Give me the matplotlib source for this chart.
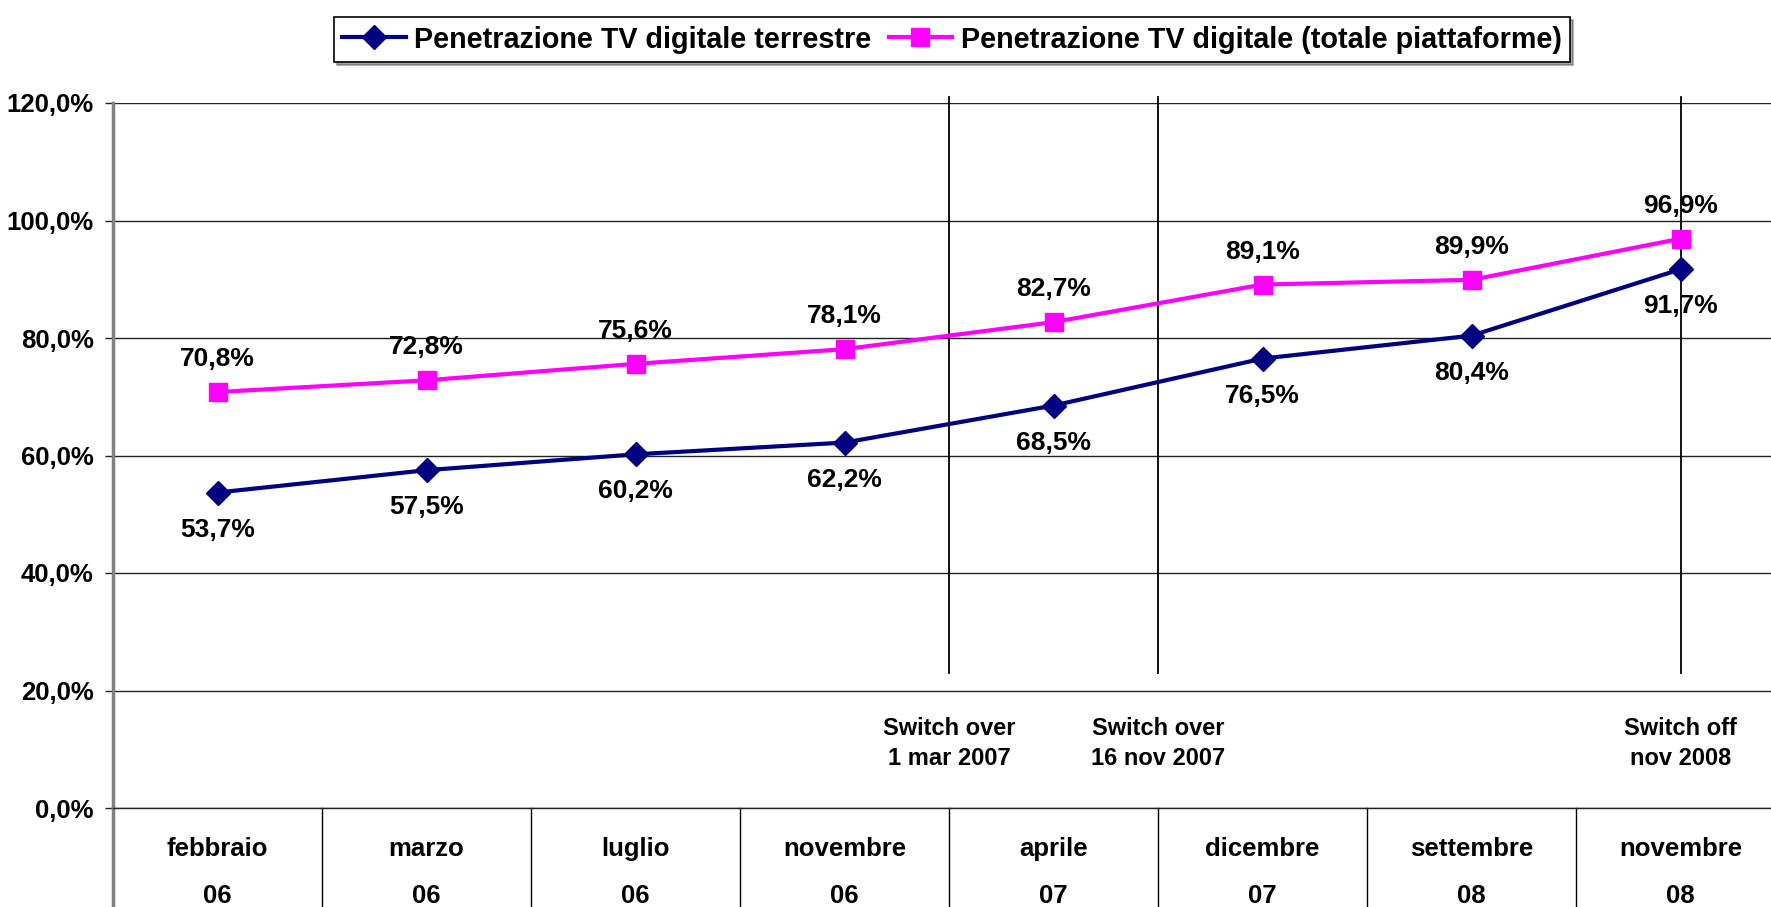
import matplotlib
matplotlib.use("Agg")
import matplotlib.pyplot as plt
import matplotlib.transforms as mtransforms

plt.rcParams['font.family'] = ['Liberation Sans', 'DejaVu Sans']
plt.rcParams['font.weight'] = 'bold'

# data
months = ["febbraio", "marzo", "luglio", "novembre", "aprile", "dicembre", "settembre", "novembre"]
years = ["06", "06", "06", "06", "07", "07", "08", "08"]
terrestre = [53.7, 57.5, 60.2, 62.2, 68.5, 76.5, 80.4, 91.7]
totale = [70.8, 72.8, 75.6, 78.1, 82.7, 89.1, 89.9, 96.9]
label_terr = "Penetrazione TV digitale terrestre"
label_tot = "Penetrazione TV digitale (totale piattaforme)"

# switch over / off markers (position between categories, text)
events_x = [3.5, 4.5, 7.0]
events_txt = ["Switch over\n1 mar 2007", "Switch over\n16 nov 2007", "Switch off\nnov 2008"]


def pct(v):
  return f"{v:.1f}%".replace(".", ",")


fig = plt.figure(figsize=(17.71, 9.07), dpi=100)
ax = fig.add_axes([113/1771, 99/907, 1672/1771, 705/907])

x = list(range(len(months)))
ax.plot(x, terrestre, color="#000080", lw=3, marker="D", ms=12, label=label_terr, zorder=4)
ax.plot(x, totale, color="#FF00FF", lw=3, marker="s", ms=13, label=label_tot, zorder=4)

# value labels: pink above, navy below
for xi, v in zip(x, totale):
  ax.annotate(pct(v), (xi, v), xytext=(0, 33), textcoords="offset pixels",
              ha="center", va="center", fontsize=19, fontweight="bold")
for xi, v in zip(x, terrestre):
  ax.annotate(pct(v), (xi, v), xytext=(0, -37), textcoords="offset pixels",
              ha="center", va="center", fontsize=19, fontweight="bold")

# vertical event lines + text
for ex, et in zip(events_x, events_txt):
  ax.plot([ex, ex], [23, 121], color="black", lw=1.3, clip_on=False, zorder=3)
  ax.text(ex, 11, et, ha="center", va="center", fontsize=17, fontweight="bold", linespacing=1.35)

ax.set_xlim(-0.5, 7.5)
ax.set_ylim(0, 120)
ax.set_yticks(range(0, 121, 20))
ax.set_yticklabels([f"{t},0%" for t in range(0, 121, 20)], fontsize=18.5, fontweight="bold")
ax.yaxis.grid(True, color="#222222", lw=1)
ax.set_axisbelow(True)
ax.tick_params(axis="y", length=6, width=1, color="#222222", pad=8)

# category axis: two-line labels + separators
ax.set_xticks([])
trans = mtransforms.blended_transform_factory(ax.transData, ax.transAxes)
for xi, m, y in zip(x, months, years):
  ax.annotate(m, (xi, 0), xycoords=trans, xytext=(0, -41), textcoords="offset pixels",
              ha="center", va="center", fontsize=18.5, fontweight="bold", annotation_clip=False)
  ax.annotate(y, (xi, 0), xycoords=trans, xytext=(0, -88), textcoords="offset pixels",
              ha="center", va="center", fontsize=18.5, fontweight="bold", annotation_clip=False)
for b in [i + 0.5 for i in x]:
  ax.plot([b, b], [0, -0.15], color="black", lw=1, transform=trans, clip_on=False)
ax.plot([-0.5, -0.5], [0, -0.15], color="#808080", lw=2.5, transform=trans, clip_on=False)

for s in ["top", "right"]:
  ax.spines[s].set_visible(False)
ax.spines["left"].set_color("#808080")
ax.spines["left"].set_linewidth(2.5)
ax.spines["bottom"].set_color("#222222")
ax.spines["bottom"].set_linewidth(1)

leg = fig.legend(loc="center", bbox_to_anchor=(0.5375, 0.9564), ncol=2,
                 frameon=True, fancybox=False, edgecolor="black", shadow=True,
                 handlelength=2.2, columnspacing=0.6, handletextpad=0.3,
                 borderpad=0.3, prop={"weight": "bold", "size": 20.7})
leg.get_frame().set_linewidth(1.2)

fig.savefig("out.png", dpi=100)
